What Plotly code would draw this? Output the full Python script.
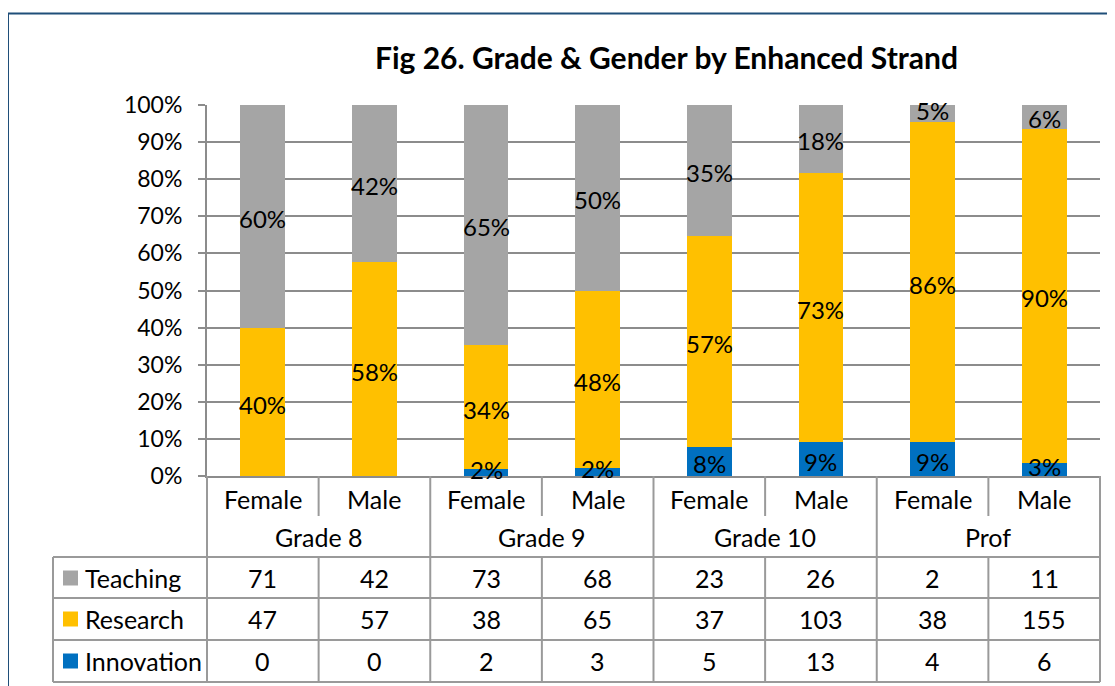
import plotly.graph_objects as go

# ---- data ----
groups = ["Grade 8", "Grade 9", "Grade 10", "Prof"]
genders = ["Female", "Male"]
series_names = ["Teaching", "Research", "Innovation"]
teaching = [71, 42, 73, 68, 23, 26, 2, 11]
research = [47, 57, 38, 65, 37, 103, 38, 155]
innovation = [0, 0, 2, 3, 5, 13, 4, 6]
title_text = "Fig 26. Grade & Gender by Enhanced Strand"

colors = {"Teaching": "#A5A5A5", "Research": "#FFC000", "Innovation": "#0070C0"}
counts = {"Teaching": teaching, "Research": research, "Innovation": innovation}

OFF = 8  # page body margin
W, H = 1115 - OFF, 686 - OFF
# plot area in screen pixels
SL, SR, ST, SB = 207, 1100, 105, 476
L, R, T, B = SL - OFF, SR - OFF, ST - OFF, SB - OFF
FONT = "Lato"
GRID = "#8C8C8C"
TBL = "#9A9A9A"
FS = 25


def px(x):  # screen x -> paper
    return (x - SL) / (SR - SL)


def py(y):  # screen y -> paper
    return (SB - y) / (SB - ST)


n = len(teaching)
totals = [teaching[i] + research[i] + innovation[i] for i in range(n)]
pct = {s: [100.0 * counts[s][i] / totals[i] for i in range(n)] for s in series_names}
xs = [i + 0.5 for i in range(n)]

fig = go.Figure()
stack_order = ["Innovation", "Research", "Teaching"]
base = [0.0] * n
annotations = []
for s in stack_order:
    fig.add_trace(go.Bar(x=xs, y=pct[s], name=s, marker=dict(color=colors[s], line=dict(width=0)),
                         width=0.4, showlegend=False))
    for i in range(n):
        if counts[s][i] > 0:
            small = pct[s][i] < 5
            annotations.append(dict(xref="x", yref="y", x=xs[i], y=base[i] + pct[s][i] / 2,
                                    text=f"{round(pct[s][i] + 1e-9)}%", showarrow=False,
                                    xanchor="center", yanchor="middle",
                                    yshift=(3 if small else -2),
                                    font=dict(family=FONT, size=24, color="black")))
        base[i] += pct[s][i]

shapes = []

# frame
shapes.append(dict(type="rect", xref="paper", yref="paper", x0=px(8), x1=px(1140), y0=py(13.5), y1=py(720),
                   line=dict(color="#1F4E79", width=2), fillcolor="rgba(0,0,0,0)", layer="below"))

# table geometry
col_w = (SR - SL) / n


def hline(y, x0, x1):
    shapes.append(dict(type="line", xref="paper", yref="paper", x0=px(x0), x1=px(x1), y0=py(y), y1=py(y),
                       line=dict(color=TBL, width=2)))


def vline(x, y0, y1):
    shapes.append(dict(type="line", xref="paper", yref="paper", x0=px(x), x1=px(x), y0=py(y0), y1=py(y1),
                       line=dict(color=TBL, width=2)))


for y in [557, 598, 640, 682]:
    hline(y, 53, SR)
vline(53, 557, 682)
for k in range(n + 1):
    x = SL + k * col_w
    if k % 2 == 0:
        vline(x, 476, 682)
    else:
        vline(x, 476, 516)
        vline(x, 557, 682)

# category labels
for i in range(n):
    annotations.append(dict(xref="paper", yref="paper", x=px(SL + (i + 0.5) * col_w), y=py(499),
                            text=genders[i % 2], showarrow=False, xanchor="center", yanchor="middle",
                            font=dict(family=FONT, size=FS, color="black")))
for g, name in enumerate(groups):
    annotations.append(dict(xref="paper", yref="paper", x=px(SL + (2 * g + 1) * col_w), y=py(537),
                            text=name, showarrow=False, xanchor="center", yanchor="middle",
                            font=dict(family=FONT, size=FS, color="black")))

# data table rows
row_centers = [578, 619, 661]
for r, s in enumerate(series_names):
    yc = row_centers[r]
    shapes.append(dict(type="rect", xref="paper", yref="paper", x0=px(63), x1=px(78), y0=py(yc - 7.5),
                       y1=py(yc + 7.5), fillcolor=colors[s], line=dict(width=0)))
    annotations.append(dict(xref="paper", yref="paper", x=px(83), y=py(yc), text=s, showarrow=False,
                            xanchor="left", yanchor="middle", font=dict(family=FONT, size=FS, color="black")))
    for i in range(n):
        annotations.append(dict(xref="paper", yref="paper", x=px(SL + (i + 0.5) * col_w), y=py(yc),
                                text=str(counts[s][i]), showarrow=False, xanchor="center", yanchor="middle",
                                font=dict(family=FONT, size=FS, color="black")))

# title
annotations.append(dict(xref="paper", yref="paper", x=px(666), y=py(57), text=f"<b>{title_text}</b>",
                        showarrow=False, xanchor="center", yanchor="middle",
                        font=dict(family=FONT, size=30, color="black")))

fig.update_layout(
    width=W, height=H, margin=dict(l=L, r=W - R, t=T, b=H - B, autoexpand=False),
    paper_bgcolor="white", plot_bgcolor="white", barmode="stack", bargap=0,
    shapes=shapes, annotations=annotations, showlegend=False,
    font=dict(family=FONT, size=FS, color="black"),
    xaxis=dict(range=[0, n], showticklabels=False, showgrid=False, zeroline=False, ticks="",
               showline=True, linecolor=GRID, linewidth=2, fixedrange=True),
    yaxis=dict(range=[0, 100], dtick=10, ticksuffix="%", showgrid=True, gridcolor=GRID, gridwidth=2,
               zeroline=False, showline=True, linecolor=GRID, linewidth=2, ticks="outside", ticklen=7,
               tickcolor=GRID, tickwidth=2, ticklabelstandoff=11,
               tickfont=dict(family=FONT, size=23, color="black"), fixedrange=True),
)

fig.write_html("out.html")
